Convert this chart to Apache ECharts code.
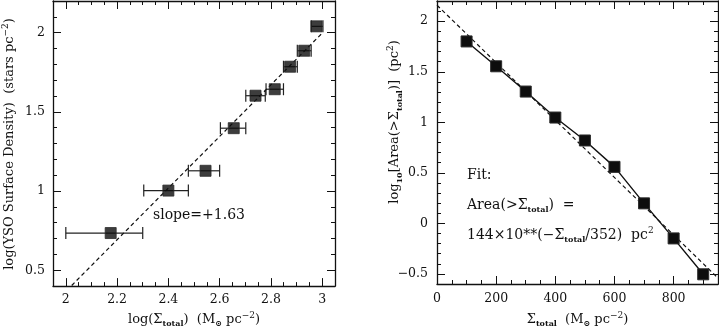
<!DOCTYPE html>
<html>
<head>
<meta charset="utf-8">
<script src="https://cdn.jsdelivr.net/npm/echarts@6/dist/echarts.min.js"></script>
<style>
  html, body { margin: 0; padding: 0; background: #fff; }
  #chart { width: 719px; height: 333px; }
</style>
</head>
<body>
<div id="chart"></div>
<script>
// left panel: log YSO surface density vs log total column density
const densX = [2.175, 2.40, 2.545, 2.655, 2.74, 2.815, 2.875, 2.93, 2.978];
const densY = [0.735, 1.003, 1.128, 1.397, 1.602, 1.643, 1.785, 1.886, 2.04];
const densXLo = [2.0, 2.304, 2.478, 2.603, 2.702, 2.781, 2.849, 2.903, 2.957];
const densXHi = [2.30, 2.478, 2.60, 2.702, 2.778, 2.849, 2.903, 2.957, 3.003];
const slopeLineX = [2.023, 3.0];
const slopeLineY = [0.404, 1.997];

// right panel: cumulative area above a given column density
const areaX = [100, 200, 300, 400, 500, 600, 700, 800, 900];
const areaY = [1.80, 1.554, 1.304, 1.047, 0.82, 0.559, 0.198, -0.149, -0.504];
const areaFitX = [0, 950];
const areaFitY = [2.158, -0.541];

// tick labels
const densXTicks = [2, 2.2, 2.4, 2.6, 2.8, 3];
const densYTicks = [0.5, 1, 1.5, 2];
const areaXTicks = [0, 200, 400, 600, 800];
const areaYTicks = [-0.5, 0, 0.5, 1, 1.5, 2];

const FONT = 'DejaVu Serif';
const INK = '#111';

function steps(from, to, step) {
  const out = [];
  for (let v = from; v <= to + step / 2; v += step) out.push(+v.toFixed(3));
  return out;
}

const fmt = v => (v < 0 ? '\u2212' + Math.abs(v) : String(v));

const rich = {
  sub: { fontFamily: FONT, fontSize: 8, fontWeight: 'bold', verticalAlign: 'bottom', lineHeight: 9, color: INK },
  sup: { fontFamily: FONT, fontSize: 9, verticalAlign: 'top', lineHeight: 9, color: INK }
};

// major ticks (+ labels on the bottom/left one), minor ticks on a twin axis, mirrored on the opposite side
function axisSet(dim, gridIndex, min, max, major, minor, margin) {
  const sides = dim === 'x' ? ['bottom', 'top'] : ['left', 'right'];
  const list = [];
  sides.forEach((side, i) => {
    list.push({
      type: 'value', gridIndex, position: side, min, max,
      axisLine: { show: true, onZero: false, lineStyle: { color: INK, width: 1.3 } },
      axisTick: { show: true, inside: true, length: 8, customValues: major, lineStyle: { color: INK, width: 1 } },
      axisLabel: {
        show: i === 0, customValues: major, margin,
        fontFamily: FONT, fontSize: 12.5, color: INK, formatter: fmt
      },
      splitLine: { show: false }
    });
    list.push({
      type: 'value', gridIndex, position: side, min, max,
      axisLine: { show: false, onZero: false },
      axisTick: { show: true, inside: true, length: 4, customValues: minor, lineStyle: { color: INK, width: 1 } },
      axisLabel: { show: false },
      splitLine: { show: false }
    });
  });
  return list;
}

const xAxes = [
  ...axisSet('x', 0, 1.95, 3.05, densXTicks, steps(2, 3, 0.05), 7),
  ...axisSet('x', 1, 0, 950, areaXTicks, steps(0, 950, 50), 8)
];
xAxes[0].name = 'log(\u03A3{sub|total})  (M{sub|\u2299} pc{sup|\u22122})';
xAxes[0].nameLocation = 'middle';
xAxes[0].nameGap = 24;
xAxes[0].nameTextStyle = { fontFamily: FONT, fontSize: 13, color: INK, lineHeight: 17, rich };
xAxes[4].name = '\u03A3{sub|total}  (M{sub|\u2299} pc{sup|\u22122})';
xAxes[4].nameLocation = 'middle';
xAxes[4].nameGap = 27;
xAxes[4].nameTextStyle = { fontFamily: FONT, fontSize: 13, color: INK, lineHeight: 17, rich };

const yAxes = [
  ...axisSet('y', 0, 0.4, 2.2, densYTicks, steps(0.4, 2.2, 0.1), 8),
  ...axisSet('y', 1, -0.6, 2.2, areaYTicks, steps(-0.6, 2.2, 0.1), 9)
];

function renderErrorBar(params, api) {
  const y = api.value(2);
  const a = api.coord([api.value(0), y]);
  const b = api.coord([api.value(1), y]);
  const cap = 6;
  const style = { stroke: '#222', lineWidth: 1.2 };
  return {
    type: 'group',
    children: [
      { type: 'line', shape: { x1: a[0], y1: a[1], x2: b[0], y2: b[1] }, style },
      { type: 'line', shape: { x1: a[0], y1: a[1] - cap, x2: a[0], y2: a[1] + cap }, style },
      { type: 'line', shape: { x1: b[0], y1: b[1] - cap, x2: b[0], y2: b[1] + cap }, style }
    ]
  };
}

const square = { symbol: 'rect', symbolSize: 11, itemStyle: { color: '#0d0d0d', borderColor: '#2a2a2a', borderWidth: 1 } };

const chart = echarts.init(document.getElementById('chart'));
chart.setOption({
  animation: false,
  backgroundColor: '#fff',
  grid: [
    { left: 53, top: 1, width: 282, height: 286 },
    { left: 437, top: 1, width: 281, height: 286 }
  ],
  xAxis: xAxes,
  yAxis: yAxes,
  graphic: [
    {
      type: 'text', x: 10, y: 144, rotation: Math.PI / 2,
      style: {
        text: 'log(YSO Surface Density)  (stars pc{sup|\u22122})',
        align: 'center', verticalAlign: 'middle',
        fontFamily: FONT, fontSize: 13, lineHeight: 17, fill: INK, rich
      }
    },
    {
      type: 'text', x: 395, y: 122, rotation: Math.PI / 2,
      style: {
        text: 'log{sub|10}[Area(>\u03A3{sub|total})]  (pc{sup|2})',
        align: 'center', verticalAlign: 'middle',
        fontFamily: FONT, fontSize: 13, lineHeight: 17, fill: INK, rich
      }
    },
    {
      type: 'text', x: 153, y: 215,
      style: { text: 'slope=+1.63', verticalAlign: 'middle', fontFamily: FONT, fontSize: 14, fill: INK }
    },
    {
      type: 'text', x: 467, y: 175,
      style: { text: 'Fit:', verticalAlign: 'middle', fontFamily: FONT, fontSize: 14, fill: INK }
    },
    {
      type: 'text', x: 467, y: 205,
      style: {
        text: 'Area(>\u03A3{sub|total})  =', verticalAlign: 'middle',
        fontFamily: FONT, fontSize: 14, lineHeight: 18, fill: INK, rich
      }
    },
    {
      type: 'text', x: 467, y: 235,
      style: {
        text: '144\u00D710**(\u2212\u03A3{sub|total}/352)  pc{sup|2}', verticalAlign: 'middle',
        fontFamily: FONT, fontSize: 14, lineHeight: 18, fill: INK, rich
      }
    }
  ],
  series: [
    {
      type: 'line', xAxisIndex: 0, yAxisIndex: 0,
      data: slopeLineX.map((x, i) => [x, slopeLineY[i]]),
      showSymbol: false, silent: true,
      lineStyle: { color: INK, width: 1.2, type: [4, 3] }
    },
    {
      type: 'custom', xAxisIndex: 0, yAxisIndex: 0,
      data: densXLo.map((lo, i) => [lo, densXHi[i], densY[i]]),
      encode: { x: [0, 1], y: 2 },
      renderItem: renderErrorBar, silent: true
    },
    {
      type: 'scatter', xAxisIndex: 0, yAxisIndex: 0,
      data: densX.map((x, i) => [x, densY[i]]),
      ...square, z: 5
    },
    {
      type: 'line', xAxisIndex: 4, yAxisIndex: 4,
      data: areaFitX.map((x, i) => [x, areaFitY[i]]),
      showSymbol: false, silent: true,
      lineStyle: { color: INK, width: 1.2, type: [4, 3] }
    },
    {
      type: 'line', xAxisIndex: 4, yAxisIndex: 4,
      data: areaX.map((x, i) => [x, areaY[i]]),
      lineStyle: { color: INK, width: 1.4 },
      ...square, z: 5
    }
  ]
});
</script>
</body>
</html>
